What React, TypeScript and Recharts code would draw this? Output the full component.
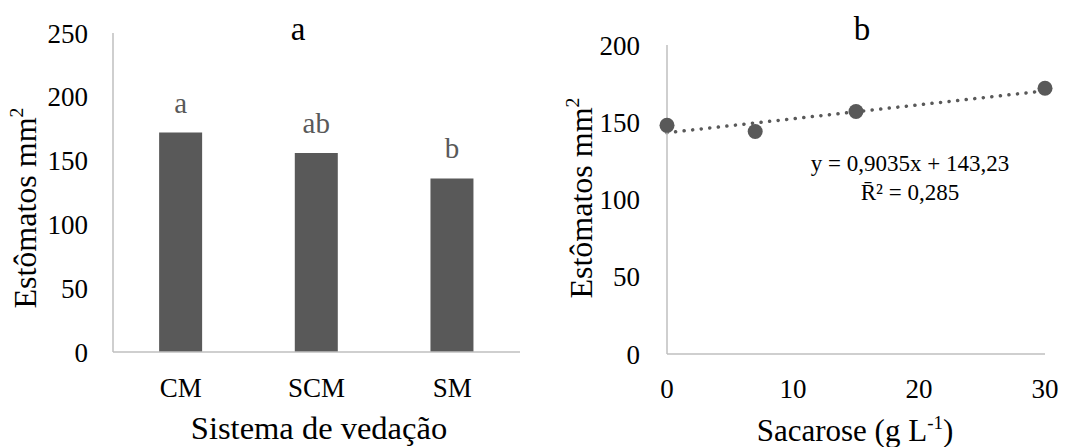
import { BarChart, Bar, XAxis, YAxis, LabelList, Label, ComposedChart, Line, Scatter } from "recharts";

const serif = "Liberation Serif, Times New Roman, serif";
const gray = "#595959";
const axisGray = "#bfbfbf";

// painel a - sistema de vedação
const sistemas = ["CM", "SCM", "SM"];
const estomatosSistema = [172, 156, 136];
const letras = ["a", "ab", "b"];
const ticksA = [0, 50, 100, 150, 200, 250];

// painel b - sacarose
const sacarose = [0, 7, 15, 30];
const estomatosSacarose = [148, 144, 157, 172];
const ticksBy = [0, 50, 100, 150, 200];
const ticksBx = [0, 10, 20, 30];
const coefA = 0.9035;
const coefB = 143.23;
const r2 = "0,285";

const barData = sistemas.map((s, i) => ({ name: s, value: estomatosSistema[i], letra: letras[i] }));
const pontos = sacarose.map((x, i) => ({ x, y: estomatosSacarose[i] }));
const tendencia = [0, 30].map((x) => ({ x, y: coefA * x + coefB }));

const tickStyle = { fontSize: 27, fontFamily: serif, fill: "#000" };
const virgula = (n: number) => n.toString().replace(".", ",");

const Texto = ({ x, y, size, rotate, children, sup }: any) => (
  <text
    x={x}
    y={y}
    fontSize={size}
    fontFamily={serif}
    fill="#000"
    textAnchor="middle"
    transform={rotate ? `rotate(-90, ${x}, ${y})` : undefined}
  >
    {children}
    {sup && (
      <tspan fontSize={size * 0.62} dy={-size * 0.42}>
        {sup}
      </tspan>
    )}
  </text>
);

const PainelA = () => (
  <BarChart width={540} height={447} data={barData} margin={{ top: 33, right: 20, bottom: 65, left: 0 }} barCategoryGap="34%">
    <XAxis
      dataKey="name"
      height={30}
      axisLine={{ stroke: axisGray, strokeWidth: 1.5 }}
      tickLine={false}
      tickSize={0}
      tickMargin={26}
      tick={tickStyle}
    >
      <Label content={() => <Texto x={319} y={439} size={32.5}>Sistema de vedação</Texto>} />
    </XAxis>
    <YAxis
      width={113}
      domain={[0, 250]}
      ticks={ticksA}
      axisLine={{ stroke: axisGray, strokeWidth: 1.5 }}
      tickLine={false}
      tickSize={0}
      tickMargin={25}
      tick={tickStyle}
    >
      <Label
        content={() => (
          <g>
            <Texto x={36} y={208} size={32} rotate sup="2">Estômatos mm</Texto>
            <Texto x={298} y={40} size={33}>a</Texto>
          </g>
        )}
      />
    </YAxis>
    <Bar dataKey="value" fill={gray} isAnimationActive={false}>
      <LabelList dataKey="letra" position="top" offset={20} fill={gray} fontSize={29} fontFamily={serif} />
    </Bar>
  </BarChart>
);

const Ponto = (props: any) => <circle cx={props.cx} cy={props.cy} r={7.5} fill={gray} />;

const PainelB = () => (
  <ComposedChart width={532} height={447} margin={{ top: 45, right: 27, bottom: 63, left: 0 }}>
    <XAxis
      dataKey="x"
      type="number"
      height={30}
      domain={[0, 30]}
      ticks={ticksBx}
      axisLine={{ stroke: axisGray, strokeWidth: 1.5 }}
      tickLine={false}
      tickSize={0}
      tickMargin={25}
      tick={tickStyle}
    >
      <Label
        content={() => (
          <text x={315} y={441} fontSize={31} fontFamily={serif} fill="#000" textAnchor="middle">
            Sacarose (g L<tspan fontSize={19} dy={-12}>-1</tspan>
            <tspan dy={12}>)</tspan>
          </text>
        )}
      />
    </XAxis>
    <YAxis
      width={127}
      type="number"
      domain={[0, 200]}
      ticks={ticksBy}
      axisLine={{ stroke: axisGray, strokeWidth: 1.5 }}
      tickLine={false}
      tickSize={0}
      tickMargin={27}
      tick={tickStyle}
    >
      <Label
        content={() => (
          <g>
            <Texto x={52} y={198} size={32} rotate sup="2">Estômatos mm</Texto>
            <Texto x={322} y={40} size={33}>b</Texto>
            <Texto x={370} y={171} size={23}>{`y = ${virgula(coefA)}x + ${virgula(coefB)}`}</Texto>
            <Texto x={370} y={200} size={23}>{`R\u0304² = ${r2}`}</Texto>
          </g>
        )}
      />
    </YAxis>
    <Line
      data={tendencia}
      dataKey="y"
      stroke={gray}
      strokeWidth={3.5}
      strokeDasharray="0.1 8.5"
      strokeLinecap="round"
      dot={false}
      activeDot={false}
      isAnimationActive={false}
    />
    <Scatter data={pontos} dataKey="y" fill={gray} shape={<Ponto />} isAnimationActive={false} />
  </ComposedChart>
);

export default function App() {
  return (
    <div style={{ position: "absolute", left: 0, top: 0, width: 1072, height: 447, background: "#fff", display: "flex" }}>
      <PainelA />
      <PainelB />
    </div>
  );
}
